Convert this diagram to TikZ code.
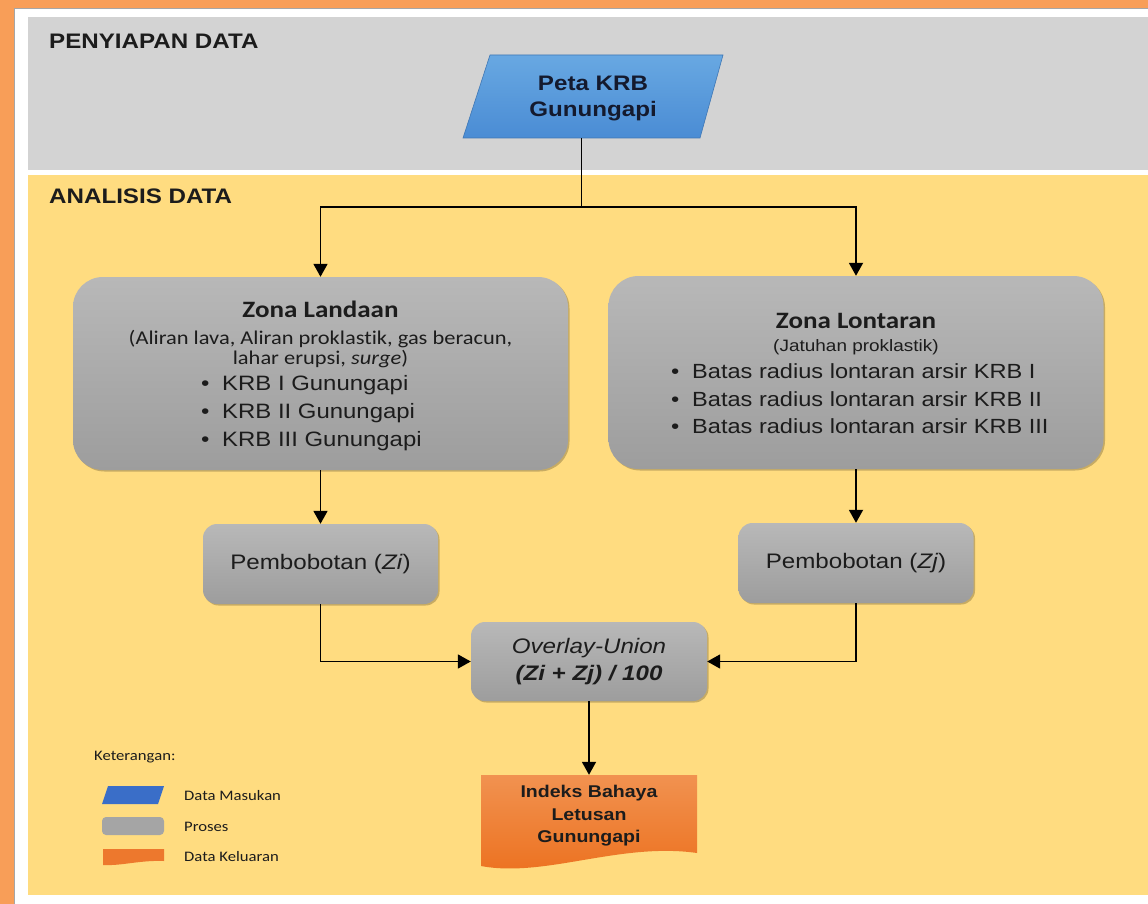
\documentclass[tikz,border=0pt]{standalone}
\usepackage{fontspec}
\setmainfont{Liberation Sans}[FakeStretch=1.15]
\newfontfamily\calfont{Carlito}[FakeStretch=1.15,Ligatures=NoCommon]
\usetikzlibrary{arrows.meta,shadows}
\definecolor{outerorange}{RGB}{248,158,88}
\definecolor{panelgray}{RGB}{211,211,211}
\definecolor{panelyellow}{RGB}{255,220,128}
\definecolor{boxtop}{RGB}{184,184,184}
\definecolor{boxbot}{RGB}{157,157,157}
\definecolor{bluetop}{RGB}{104,168,226}
\definecolor{bluebot}{RGB}{74,140,212}
\definecolor{oratop}{RGB}{241,146,80}
\definecolor{orabot}{RGB}{236,112,30}
\definecolor{legblue}{RGB}{58,110,200}
\definecolor{leggray}{RGB}{165,165,165}
\definecolor{legorange}{RGB}{237,120,45}
\definecolor{txt}{RGB}{28,28,28}
\definecolor{navytxt}{RGB}{20,26,46}
\newcommand\myfs[2]{\fontsize{#1}{#2}\selectfont}
\newcommand\bul{\makebox[21pt][l]{\textbullet}}
\begin{document}
\begin{tikzpicture}[x=1pt,y=-1pt,
  proc/.style={shade, top color=boxtop, bottom color=boxbot, draw=none, inner sep=0pt,
    rounded corners=14pt, text=txt,
    drop shadow={opacity=0.22, shadow xshift=1.5pt, shadow yshift=-1.5pt, fill=black}},
  zone/.style={proc, rounded corners=30pt, minimum width=495pt, minimum height=193pt},
  smallbox/.style={proc, minimum width=235pt, minimum height=80pt},
  txtnode/.style={inner sep=0pt, text=txt, anchor=base},
  arr/.style={draw=black, line width=1.8pt, -{Triangle[width=14pt,length=13pt]}},
  conn/.style={draw=black, line width=1.8pt},
  legtxt/.style={inner sep=0pt, anchor=base west, text=txt, font=\calfont\myfs{14.5}{16}},
]
\useasboundingbox (0,0) rectangle (1148,904);
% backgrounds
\fill[outerorange] (0,0) rectangle (1148,904);
\fill[white] (14,9) rectangle (1148,904);
\draw[gray!70, line width=1pt] (14,904) -- (14,9) -- (1148,9);
\fill[panelgray] (28,17) rectangle (1148,170);
\fill[panelyellow] (28,175) rectangle (1148,895);

\node[txtnode, anchor=base west, font=\bfseries\myfs{21}{24}] (hdr1) at (49,48.3) {PENYIAPAN DATA};
\node[txtnode, anchor=base west, font=\bfseries\myfs{21}{24}] (hdr2) at (49,204) {ANALISIS DATA};

% input parallelogram
\shade[top color=bluetop, bottom color=bluebot, draw=bluebot!85!black, line width=0.6pt]
  (490,55) -- (723,55) -- (700,138) -- (463,138) -- cycle;
\node[inner sep=0pt, text=navytxt, align=center, font=\bfseries\myfs{21}{26}] (peta) at (593,99) {Peta KRB\\Gunungapi};
\coordinate (pb) at (581.5,138);
\coordinate (split) at (581.5,207);

% zones
\node[zone] (landaan) at (320.5,373.5) {};
\node[zone] (lontaran) at (856,372.5) {};

\node[txtnode, font=\calfont\bfseries\myfs{23.5}{26}] (lt1) at (320.5,317.3) {Zona Landaan};
\node[txtnode, font=\calfont\myfs{19.5}{21}] (lt2) at (320.5,344) {(Aliran lava, Aliran proklastik, gas beracun,};
\node[txtnode, font=\calfont\myfs{19.5}{21}] (lt3) at (320.5,364.3) {lahar erupsi, \textit{surge})};
\node[txtnode, anchor=base west, font=\myfs{20.8}{24}] (lb1) at (201,390.5) {\bul KRB I Gunungapi};
\node[txtnode, anchor=base west, font=\myfs{20.8}{24}] (lb2) at (201,418.5) {\bul KRB II Gunungapi};
\node[txtnode, anchor=base west, font=\myfs{20.8}{24}] (lb3) at (201,446.5) {\bul KRB III Gunungapi};

\node[txtnode, font=\calfont\bfseries\myfs{23.5}{26}] (rt1) at (856,328.3) {Zona Lontaran};
\node[txtnode, font=\myfs{16.5}{19}] (rt2) at (856,351.7) {(Jatuhan proklastik)};
\node[txtnode, anchor=base west, font=\myfs{20.5}{24}] (rb1) at (671,378.3) {\bul Batas radius lontaran arsir KRB I};
\node[txtnode, anchor=base west, font=\myfs{20.5}{24}] (rb2) at (671,406) {\bul Batas radius lontaran arsir KRB II};
\node[txtnode, anchor=base west, font=\myfs{20.5}{24}] (rb3) at (671,433.5) {\bul Batas radius lontaran arsir KRB III};

% weighting boxes
\node[smallbox, font=\myfs{21}{24}] (zi) at (320.5,564) {Pembobotan (\textit{Zi})};
\node[smallbox, font=\myfs{21}{24}] (zj) at (856,563) {Pembobotan (\textit{Zj})};

% overlay
\node[proc, minimum width=236pt, minimum height=79pt, align=center, font=\myfs{21}{27}] (overlay) at (589,661.5)
  {\textit{Overlay-Union}\\\textbf{\textit{(Zi + Zj) / 100}}};

% output document
\shade[top color=oratop, bottom color=orabot]
  (481,775) -- (697,775) -- (697,853) .. controls (620,842) and (545,878) .. (481,866) -- cycle;
\node[inner sep=0pt, minimum width=216pt, minimum height=82pt, align=center, text=txt,
  font=\bfseries\myfs{17}{22.5}] (out) at (589,816) {Indeks Bahaya\\Letusan\\Gunungapi};

% connectors
\draw[conn] (pb) -- (split);
\draw[arr] (split) -| (landaan.north);
\draw[arr] (split) -| (lontaran.north);
\draw[arr] (landaan.south) -- (zi.north);
\draw[arr] (lontaran.south) -- (zj.north);
\draw[arr] (zi.south) |- (overlay.west);
\draw[arr] (zj.south) |- (overlay.east);
\draw[arr] (overlay.south) -- (out.north);

% legend
\node[legtxt] (ket) at (94,760.7) {Keterangan:};
\fill[legblue] (108,786) -- (164,786) -- (158,804) -- (102,804) -- cycle;
\fill[leggray, rounded corners=4pt] (102,817) rectangle (164,835);
\fill[legorange] (103,849) -- (164,849) -- (164,861) .. controls (140,860) and (122,866) .. (103,865) -- cycle;
\node[legtxt] (lg1) at (184,800) {Data Masukan};
\node[legtxt] (lg2) at (184,831) {Proses};
\node[legtxt] (lg3) at (184,861) {Data Keluaran};
\end{tikzpicture}
\end{document}
